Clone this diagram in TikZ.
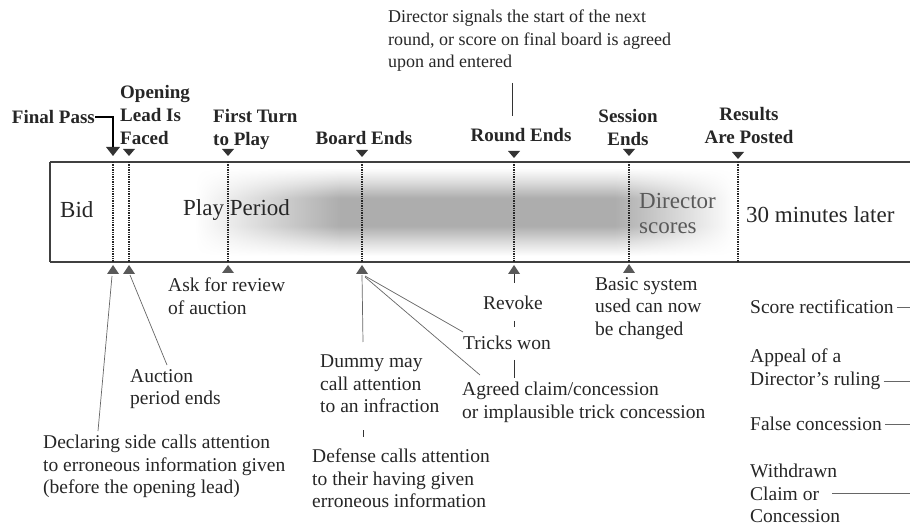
\documentclass[tikz,border=0pt]{standalone}
\usepackage{fontspec}
\setmainfont{Liberation Serif}
\usetikzlibrary{arrows.meta, calc, fadings}

\tikzfading[name=fade in, left color=transparent!100, right color=transparent!0]
\tikzfading[name=fade out, left color=transparent!0, right color=transparent!100]
\pgfdeclareverticalshading{haze}{100bp}{color(0bp)=(white); color(25bp)=(white);
  color(32bp)=(black!12); color(42bp)=(black!32); color(58bp)=(black!32);
  color(68bp)=(black!12); color(75bp)=(white); color(100bp)=(white)}

\begin{document}
\begin{tikzpicture}[x=1pt, y=-1pt,
    lbl/.style={font=\fontsize{19.5}{22.5}\selectfont, align=left, inner sep=0pt, text=black!85},
    event/.style={font=\fontsize{19}{23}\selectfont\bfseries, align=center, inner sep=0pt, text=black!85},
    period/.style={font=\fontsize{23}{25}\selectfont, align=left, inner sep=0pt, text=black!85},
    tick/.style={densely dotted, line width=1.4pt, black!85},
    link/.style={line width=0.7pt, black!60},
    downmark/.style={fill=black!80},
    upmark/.style={fill=black!65},
    band/.style={shading=haze}
]
\useasboundingbox (0,0) rectangle (910,526);

% grey band behind the play period
\shade[band, path fading=fade in] (195,168) rectangle (340,256);
\shade[band] (340,168) rectangle (615,256);
\shade[band, path fading=fade out] (615,168) rectangle (735,256);

% the time bar
\draw[line width=2.2pt, black!75] (50,162) -- (910,162);
\draw[line width=2.2pt, black!75] (50,262) -- (910,262);
\draw[line width=1.3pt, black!75] (50,162) -- (50,262);
\coordinate (edge) at (910,0);

% events along the bar
\coordinate (fp) at (113,162);  \coordinate (fpB) at (113,262);
\coordinate (ol) at (129,162);  \coordinate (olB) at (129,262);
\coordinate (ft) at (228,162);  \coordinate (ftB) at (228,262);
\coordinate (be) at (362,162);  \coordinate (beB) at (362,262);
\coordinate (re) at (514,162);  \coordinate (reB) at (514,262);
\coordinate (se) at (629,162);  \coordinate (seB) at (629,262);
\coordinate (rp) at (738,162);  \coordinate (rpB) at (738,262);

\draw[tick] (fp) -- (fpB);
\draw[tick] (ol) -- (olB);
\draw[tick] (ft) -- (ftB);
\draw[tick] (be) -- (beB);
\draw[tick] (re) -- (reB);
\draw[tick] (se) -- (seB);
\draw[tick] (rp) -- (rpB);

% marks above the bar
\fill[downmark] (fp) ++(-7,-15) -- ++(14,0) -- ++(-7,9) -- cycle;
\fill[downmark] (ol) ++(-6,-13) -- ++(12,0) -- ++(-6,7) -- cycle;
\fill[downmark] (ft) ++(-6,-13) -- ++(12,0) -- ++(-6,7) -- cycle;
\fill[downmark] (be) ++(-6,-12) -- ++(12,0) -- ++(-6,7) -- cycle;
\fill[downmark] (re) ++(-6,-11) -- ++(12,0) -- ++(-6,7) -- cycle;
\fill[downmark] (se) ++(-6,-13) -- ++(12,0) -- ++(-6,7) -- cycle;
\fill[downmark] (rp) ++(-6,-10) -- ++(12,0) -- ++(-6,7) -- cycle;

% marks below the bar
\fill[upmark] (fpB) ++(0,3) -- ++(6,9) -- ++(-12,0) -- cycle;
\fill[upmark] (olB) ++(0,3) -- ++(6,9) -- ++(-12,0) -- cycle;
\fill[upmark] (ftB) ++(0,3) -- ++(6,8) -- ++(-12,0) -- cycle;
\fill[upmark] (beB) ++(0,3) -- ++(6,9) -- ++(-12,0) -- cycle;
\fill[upmark] (reB) ++(0,3) -- ++(6,9) -- ++(-12,0) -- cycle;
\fill[upmark] (seB) ++(0,2) -- ++(6,9) -- ++(-12,0) -- cycle;

% texts inside the bar
\node[period, anchor=west] (bid) at (60,210) {Bid};
\node[period, anchor=west] (play) at (183,210) {Play Period};
\node[period, anchor=north west, text=black!65] (dirsc) at (639,193) {Director\\scores};
\node[period, anchor=west] (later) at (746,215) {30 minutes later};

% event names above the bar
\node[event, anchor=east] (finalpass) at (95,117) {Final Pass};
\node[event, anchor=north west, align=left] (opening) at (120,85) {Opening\\Lead Is\\Faced};
\node[event, anchor=north west, align=left] (firstturn) at (213,109) {First Turn\\to Play};
\node[event] (boardends) at (364,138) {Board Ends};
\node[event] (roundends) at (521,135) {Round Ends};
\node[event, anchor=north] (sessionends) at (628,109) {Session\\Ends};
\node[event, anchor=north] (results) at (749,107) {Results\\Are Posted};
\node[lbl, font=\fontsize{18}{22.5}\selectfont, anchor=north west] (signal) at (388,10) {Director signals the start of the next\\round, or score on final board is agreed\\upon and entered};

\draw[line width=1.1pt, black] (finalpass.east) -| ($(fp)+(0,-15)$);
\draw[line width=0.7pt, black!80] ($(signal.south -| re)+(-2,11)$) -- ($(roundends.north -| re)+(-2,-12)$);

% notes below the bar
\node[lbl, anchor=north west] (declaring) at (43,435) {Declaring side calls attention\\to erroneous information given\\(before the opening lead)};
\node[lbl, anchor=north west] (auction) at (130,369) {Auction\\period ends};
\node[lbl, anchor=north west] (review) at (168,278) {Ask for review\\of auction};
\node[lbl, anchor=north west] (dummy) at (320,355) {Dummy may\\call attention\\to an infraction};
\node[lbl, anchor=north west] (defense) at (312,449) {Defense calls attention\\to their having given\\erroneous information};
\node[lbl] (revoke) at (513,303) {Revoke};
\node[lbl, anchor=north west] (tricks) at (463,336) {Tricks won};
\node[lbl, anchor=north west] (agreed) at (462,382) {Agreed claim/concession\\or implausible trick concession};
\node[lbl, anchor=north west] (basic) at (595,277) {Basic system\\used can now\\be changed};
\node[lbl, anchor=north west] (score) at (750,300) {Score rectification};
\node[lbl, anchor=north west] (appeal) at (750,349) {Appeal of a\\Director's ruling};
\node[lbl, anchor=north west] (false) at (750,417) {False concession};
\node[lbl, anchor=north west] (withdrawn) at (750,464) {Withdrawn\\Claim or\\Concession};

\draw[link] ($(fpB)+(-1,14)$) -- ([xshift=55pt, yshift=4pt]declaring.north west);
\draw[link] ($(olB)+(1,13)$) -- ([xshift=37pt, yshift=4pt]auction.north west);
\draw[link] ($(beB)+(0,13)$) -- ([xshift=43pt, yshift=13pt]dummy.north west);
\draw[link] ($(beB)+(3,14)$) -- ([yshift=4pt]tricks.north west);
\draw[link] ($(beB)+(3,15)$) -- ([xshift=18pt, yshift=7pt]agreed.north west);
\draw[link, black!80] ([xshift=43pt, yshift=-75pt]dummy.north west) -- ++(0,7);
\draw[link, black!80] ($(reB)+(0,12)$) -- ++(0,9);
\draw[link, black!80] ([yshift=-25pt]revoke.north -| reB) -- ++(0,6);
\draw[link, black!80] ([yshift=-24pt]tricks.north -| reB) -- ++(0,18);
\draw[link] ([xshift=3pt]score.east) -- (score.east -| edge);
\draw[link] ([xshift=3pt, yshift=8pt]appeal.south east) -- ([yshift=8pt]appeal.south east -| edge);
\draw[link] ([xshift=3pt]false.east) -- (false.east -| edge);
\draw[link] ([xshift=82pt]withdrawn.west) -- (withdrawn.west -| edge);
\end{tikzpicture}
\end{document}
